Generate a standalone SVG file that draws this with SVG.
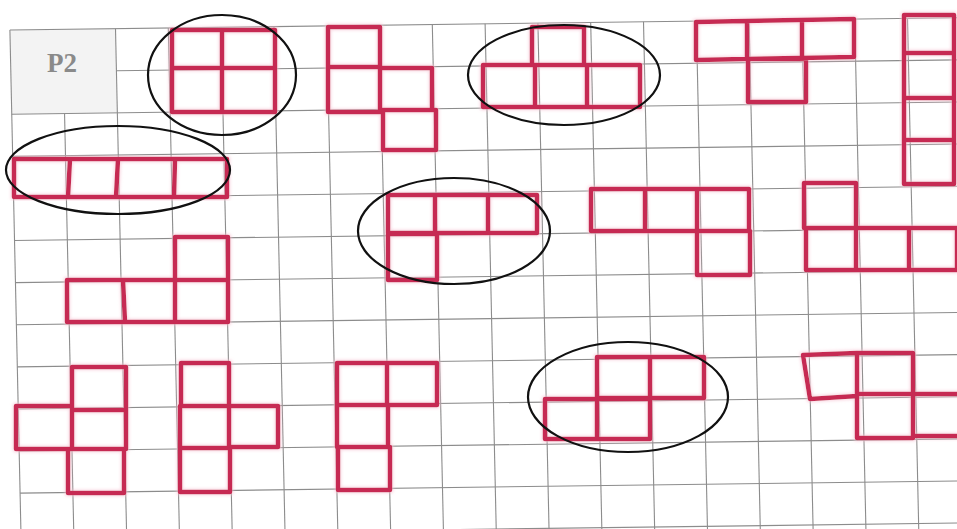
<svg xmlns="http://www.w3.org/2000/svg" width="957" height="529" viewBox="0 0 957 529">
  <style>
    .grid line { stroke: #8c8c8c; stroke-width: 1.1; }
    .ink { fill: none; stroke: #c62a52; stroke-width: 4.5; stroke-linejoin: round; stroke-linecap: round; filter: url(#marker); }
    .ring { fill: none; stroke: #111; stroke-width: 2.2; }
    .label { font-family: "Liberation Serif", "Times New Roman", serif; font-weight: bold; font-size: 27px; fill: #8a8a8a; }
  </style>
  <defs>
    <filter id="marker" x="-10%" y="-10%" width="120%" height="120%">
      <feMorphology in="SourceGraphic" operator="dilate" radius="1.2" result="d"/>
      <feGaussianBlur in="d" stdDeviation="1.6" result="b"/>
      <feColorMatrix in="b" type="matrix" values="0 0 0 0 0.93  0 0 0 0 0.55  0 0 0 0 0.65  0 0 0 0.7 0" result="halo"/>
      <feMerge><feMergeNode in="halo"/><feMergeNode in="SourceGraphic"/></feMerge>
    </filter>
  </defs>
  <rect x="0" y="0" width="957" height="529" fill="#ffffff"/>

  <g id="paper" transform="matrix(1 -0.013 0.022 1 -5.83 6.24)">
    <rect id="p2-box" x="15.2" y="24" width="105.6" height="84.2" fill="#f3f3f3"/>
    <g class="grid" id="grid">
      <line x1="15.2" y1="24" x2="15.2" y2="580"/>
      <line x1="68" y1="108.2" x2="68" y2="580"/>
      <line x1="120.8" y1="24" x2="120.8" y2="580"/>
      <line x1="173.6" y1="24" x2="173.6" y2="580"/>
      <line x1="226.4" y1="24" x2="226.4" y2="580"/>
      <line x1="279.2" y1="24" x2="279.2" y2="580"/>
      <line x1="332" y1="24" x2="332" y2="580"/>
      <line x1="384.8" y1="24" x2="384.8" y2="580"/>
      <line x1="437.6" y1="24" x2="437.6" y2="580"/>
      <line x1="490.4" y1="24" x2="490.4" y2="580"/>
      <line x1="543.2" y1="24" x2="543.2" y2="580"/>
      <line x1="596" y1="24" x2="596" y2="580"/>
      <line x1="648.8" y1="24" x2="648.8" y2="580"/>
      <line x1="701.6" y1="24" x2="701.6" y2="580"/>
      <line x1="754.4" y1="24" x2="754.4" y2="580"/>
      <line x1="807.2" y1="24" x2="807.2" y2="580"/>
      <line x1="860" y1="24" x2="860" y2="580"/>
      <line x1="912.8" y1="24" x2="912.8" y2="580"/>
      <line x1="965.6" y1="24" x2="965.6" y2="580"/>

      <line x1="15.2" y1="24" x2="1010" y2="24"/>
      <line x1="120.8" y1="66.1" x2="1010" y2="66.1"/>
      <line x1="15.2" y1="108.2" x2="1010" y2="108.2"/>
      <line x1="15.2" y1="150.3" x2="1010" y2="150.3"/>
      <line x1="15.2" y1="192.4" x2="1010" y2="192.4"/>
      <line x1="15.2" y1="234.5" x2="1010" y2="234.5"/>
      <line x1="15.2" y1="276.6" x2="1010" y2="276.6"/>
      <line x1="15.2" y1="318.7" x2="1010" y2="318.7"/>
      <line x1="15.2" y1="360.8" x2="1010" y2="360.8"/>
      <line x1="15.2" y1="402.9" x2="1010" y2="402.9"/>
      <line x1="15.2" y1="445" x2="1010" y2="445"/>
      <line x1="15.2" y1="487.1" x2="1010" y2="487.1"/>
      <line x1="15.2" y1="529.2" x2="1010" y2="529.2"/>
    </g>
  </g>

  <g id="label-p2">
    <text class="label" x="47" y="72">P2</text>
  </g>

  <g id="piece-o">
    <path class="ink" d="M172 30 H275 V112 H172 Z M222 30 V112 M172 68 H275"/>
  </g>
  <g id="piece-s-top">
    <path class="ink" d="M328 27 H380 V67 H328 Z M328 67 H380 V112 H328 Z M380 68 H432 V110 H380 Z M383 110 H436 V150 H383 Z"/>
  </g>
  <g id="piece-t-up">
    <path class="ink" d="M532 27 H584 V65 H532 Z M483 65 H640 V107 H483 Z M535 65 V107 M587 65 V107"/>
  </g>
  <g id="piece-t-down">
    <path class="ink" d="M696 22 L854 19 L854 57 L696 60 Z M747 21 V59 M802 20 V58 M748 59 H806 V102 H748 Z"/>
  </g>
  <g id="piece-i-vertical">
    <path class="ink" d="M904 15 H954 V184 H904 Z M904 53 H954 M904 98 H954 M904 140 H954"/>
  </g>
  <g id="piece-i-horizontal">
    <path class="ink" d="M14 159 H227 V197 H14 Z M70 159 L68 197 M118 159 L116 197 M175 159 L174 197"/>
  </g>
  <g id="piece-l-mid">
    <path class="ink" d="M388 195 H537 V233 H388 Z M435 195 V234 M488 195 V233 M388 234 H437 V280 H388 Z"/>
  </g>
  <g id="piece-j-mid">
    <path class="ink" d="M591 189 H749 V231 H591 Z M645 189 V231 M697 189 V231 M697 231 H750 V275 H697 Z"/>
  </g>
  <g id="piece-l-right">
    <path class="ink" d="M804 183 H856 V228 H804 Z M806 228 H957 V270 H806 Z M856 228 V270 M909 228 V270"/>
  </g>
  <g id="piece-j-left">
    <path class="ink" d="M175 237 H228 V280 H175 Z M67 280 H228 V322 H67 Z M123 280 L125 322 M175 280 V322"/>
  </g>
  <g id="piece-t-left">
    <path class="ink" d="M72 367 H126 V410 H72 Z M16 406 H72 V449 H16 Z M72 410 H126 V449 H72 Z M68 449 H124 V493 H68 Z"/>
  </g>
  <g id="piece-t-right">
    <path class="ink" d="M181 363 H229 V406 H181 Z M180 406 H229 V448 H180 Z M229 406 H278 V447 H229 Z M180 448 H230 V492 H180 Z"/>
  </g>
  <g id="piece-j-bottom">
    <path class="ink" d="M337 363 H437 V405 H337 Z M387 363 V405 M337 405 H388 V447 H337 Z M338 447 H390 V490 H338 Z"/>
  </g>
  <g id="piece-s-bottom">
    <path class="ink" d="M597 357 H704 V398 H597 Z M650 357 V439 M545 399 H650 V439 H545 Z M597 398 V439"/>
  </g>
  <g id="piece-z-right">
    <path class="ink" d="M803 355 L857 353 L857 396 L810 399 Z M857 353 H913 V394 H857 M857 396 V438 H913 V394 M913 394 H957 M913 436 H957"/>
  </g>

  <g id="ellipses">
    <ellipse class="ring" cx="222" cy="75" rx="74" ry="60"/>
    <ellipse class="ring" cx="118" cy="170" rx="112" ry="44"/>
    <ellipse class="ring" cx="564" cy="75" rx="96" ry="50"/>
    <ellipse class="ring" cx="454" cy="231" rx="96" ry="53"/>
    <ellipse class="ring" cx="628" cy="397" rx="100" ry="55"/>
  </g>
</svg>
